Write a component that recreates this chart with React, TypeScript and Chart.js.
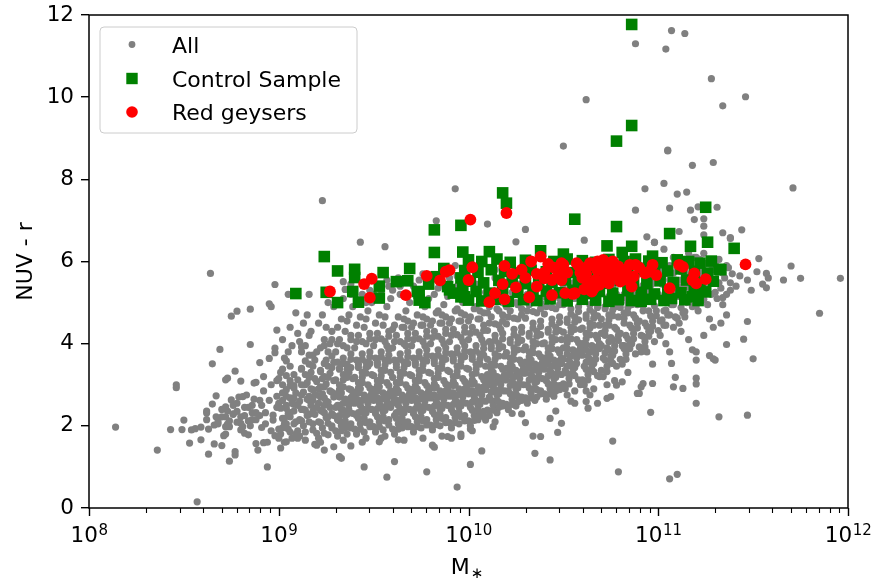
import React, { useEffect, useRef } from "react";
import { Chart, registerables } from "chart.js";
Chart.register(...registerables);

const FONT = "'DejaVu Sans', 'Liberation Sans', sans-serif";

const xTickExponents = [8, 9, 10, 11, 12];
const yTickValues = [0, 2, 4, 6, 8, 10, 12];
const legendLabels = ["All", "Control Sample", "Red geysers"];
const xAxisLabel = "M";
const xAxisSubscript = "\u2217";
const yAxisLabel = "NUV - r";

// Each list holds pairs: log10(M*) x 100, NUV - r x 100
const allOutliers = [
  814,197, 836,141, 846,300, 846,293, 857,15, 843,191, 849,191, 850,214, 853,158, 854,190, 856,193, 859,166, 859,197,
  862,231, 862,236, 864,571, 865,351, 867,273, 865,253, 863,131, 863,192, 866,202, 867,222, 868,210, 866,156, 869,386,
  872,312, 873,316, 870,152, 872,246, 873,236, 872,222, 872,198, 873,204, 871,176, 874,114, 877,129, 877,137, 875,467,
  878,479, 875,263, 877,333, 880,309, 876,229, 878,209, 880,206, 881,198, 885,484, 885,398, 881,271, 883,275, 887,304,
  888,306, 882,182, 884,178, 888,157, 892,159, 889,141, 894,100, 890,354, 895,364, 898,389, 898,378, 895,497, 896,490,
  898,544, 899,433, 901,146, 904,161, 923,748, 916,520, 905,520, 934,551, 920,153, 924,141, 929,149, 938,151, 932,125,
  933,121, 945,100, 943,647, 956,636, 953,161, 961,113, 963,166, 957,75, 978,88, 981,153, 982,148, 983,699, 989,174,
  991,170, 996,174, 994,51, 993,777, 1001,106, 1007,139, 1002,188, 1001,192, 1013,198, 1014,210, 1009,214, 1010,691,
  1023,230, 1028,229, 1025,648, 1030,678, 1030,208, 1038,174, 1035,133, 1034,175, 1043,117, 1043,218, 1049,206, 1047,184,
  1046,236, 1050,881, 1056,255, 1062,259, 1063,243, 1062,994, 1061,652, 1068,255, 1073,267, 1075,271, 1076,163, 1078,299,
  1079,88, 1081,307, 1090,279, 1089,279, 1088,1130, 1088,725, 1096,233, 1097,303, 1091,295, 1092,303, 1093,777, 1094,660,
  1098,646, 1098,647, 1103,790, 1106,730, 1103,630, 1106,71, 1110,82, 1107,1162, 1104,1117, 1105,871, 1105,869, 1107,352,
  1109,318, 1108,295, 1110,764, 1111,673, 1113,291, 1114,1155, 1115,769, 1117,725, 1119,702, 1118,834, 1120,255, 1120,316,
  1120,302, 1120,360, 1120,380, 1121,733, 1124,704, 1124,686, 1124,665, 1127,371, 1129,363, 1130,360, 1128,1045, 1129,841,
  1131,732, 1132,222, 1134,979, 1134,670, 1136,398, 1138,656, 1138,658, 1144,677, 1145,411, 1147,454, 1147,226, 1150,363,
  1146,1001, 1153,607, 1157,571, 1157,536, 1166,555, 1170,589, 1171,779, 1175,559, 1185,474, 1196,559,
];

const allLowMass = [
  870,240, 874,212, 878,255, 882,225, 885,200, 887,265, 880,190, 876,228, 868,205, 884,245, 888,215, 886,232, 862,215,
  879,270, 872,180, 891,196, 893,232, 895,262, 897,214, 899,245, 892,285, 896,300, 898,176, 894,160, 899,272, 891,250,
  897,226, 893,205, 896,188, 899,310, 892,320,
  880,222, 882,245, 884,212, 886,250, 888,232, 890,225, 890,262, 886,215, 878,235, 876,250, 874,198, 870,222,
];

const allCloud90 = [
  901,180, 903,205, 905,230, 907,255, 909,280, 902,300, 904,322, 906,345, 908,268, 901,243, 903,218, 905,192, 907,170,
  909,210, 902,262, 904,288, 906,310, 908,236, 901,330, 903,365, 905,380, 907,395, 909,180, 904,250, 906,222, 908,298,
  902,410, 906,440, 909,475, 903,160,
  911,175, 913,200, 915,225, 917,250, 919,275, 912,300, 914,325, 916,350, 918,190, 911,215, 913,240, 915,265, 917,290,
  919,315, 912,340, 914,165, 916,210, 918,235, 911,260, 913,282, 915,305, 917,330, 919,360, 912,380, 914,395, 916,420,
  918,372, 911,405, 913,450, 915,470, 917,430, 919,155, 912,240, 916,272, 919,228,
  921,170, 923,195, 925,220, 927,245, 929,270, 922,295, 924,320, 926,345, 928,370, 921,210, 923,235, 925,260, 927,285,
  929,310, 922,335, 924,182, 926,206, 928,230, 921,255, 923,278, 925,302, 927,328, 929,355, 922,390, 924,410, 926,380,
  928,430, 921,450, 923,470, 925,440, 927,400, 929,490, 922,160, 926,500, 924,250, 928,200, 921,290, 925,360, 929,225,
  923,315,
  931,175, 933,200, 935,225, 937,250, 939,275, 932,300, 934,325, 936,350, 938,375, 931,400, 933,188, 935,212, 937,238,
  939,262, 932,288, 934,312, 936,338, 938,362, 931,215, 933,240, 935,265, 937,290, 939,315, 932,340, 934,365, 936,390,
  938,420, 931,440, 933,460, 935,430, 937,470, 939,490, 932,410, 934,510, 936,180, 938,205, 931,250, 935,195, 939,230,
  933,280, 937,330, 931,355, 936,455, 934,165, 938,520,
  941,180, 943,205, 945,230, 947,255, 949,280, 942,305, 944,330, 946,355, 948,380, 941,405, 943,192, 945,218, 947,242,
  949,268, 942,292, 944,318, 946,342, 948,368, 941,225, 943,250, 945,275, 947,300, 949,325, 942,350, 944,375, 946,400,
  948,425, 941,445, 943,465, 945,440, 947,480, 949,500, 942,420, 944,520, 946,170, 948,210, 941,265, 945,185, 949,240,
  943,290, 947,345, 941,360, 946,460, 944,160, 948,530,
];

const allFill90 = [
  900,192, 902,218, 904,242, 906,268, 908,292, 900,315, 902,338, 904,358, 906,232, 908,205, 900,255, 902,280, 904,205,
  906,298, 908,325, 900,170, 904,272, 908,252, 902,195, 906,185,
  910,188, 912,212, 914,238, 916,262, 918,288, 910,312, 912,338, 914,358, 916,228, 918,205, 910,250, 912,275, 914,300,
  916,318, 918,345, 910,170, 914,185, 918,262, 912,392, 916,372, 910,425,
  920,182, 922,208, 924,232, 926,258, 928,282, 920,308, 922,332, 924,352, 926,222, 928,195, 920,245, 922,270, 924,295,
  926,318, 928,342, 920,380, 924,395, 928,410, 922,238, 926,178, 920,275, 924,268,
  930,188, 932,212, 934,238, 936,262, 938,288, 930,312, 932,338, 934,352, 936,228, 938,195, 930,245, 932,270, 934,295,
  936,318, 938,342, 930,380, 934,395, 938,410, 932,225, 936,200, 930,278, 934,255, 938,268, 932,250,
  940,192, 942,218, 944,242, 946,268, 948,292, 940,318, 942,342, 944,362, 946,232, 948,198, 940,255, 942,280, 944,305,
  946,328, 948,352, 940,390, 944,405, 948,412, 942,232, 946,208, 940,282, 944,262, 948,272, 942,262,
  930,505, 935,532, 944,548, 950,520, 938,545, 946,500,
];

const allCloud95 = [
  951,185, 953,210, 955,235, 957,260, 959,285, 952,310, 954,335, 956,360, 958,385, 951,410, 953,198, 955,222, 957,248,
  959,272, 952,298, 954,322, 956,348, 958,372, 951,230, 953,255, 955,280, 957,305, 959,330, 952,355, 954,380, 956,405,
  958,430, 951,450, 953,470, 955,445, 957,490, 959,510, 952,425, 954,530, 956,175, 958,215, 951,270, 955,190, 959,245,
  953,295, 957,395, 951,365, 956,465, 954,170, 958,540,
  961,180, 963,205, 965,230, 967,255, 969,280, 962,305, 964,330, 966,355, 968,380, 961,405, 963,192, 965,218, 967,242,
  969,268, 962,292, 964,318, 966,342, 968,368, 961,225, 963,250, 965,275, 967,300, 969,325, 962,350, 964,375, 966,400,
  968,425, 961,445, 963,465, 965,440, 967,480, 969,500, 962,420, 964,520, 966,165, 968,210, 961,265, 965,195, 969,240,
  963,285, 967,395, 961,360, 966,460, 964,540, 968,455,
  971,185, 973,210, 975,235, 977,260, 979,285, 972,310, 974,335, 976,360, 978,385, 971,410, 973,198, 975,222, 977,248,
  979,272, 972,298, 974,322, 976,348, 978,372, 971,230, 973,255, 975,280, 977,305, 979,330, 972,355, 974,380, 976,405,
  978,430, 971,450, 973,470, 975,445, 977,490, 979,510, 972,425, 974,530, 976,170, 978,215, 971,270, 975,195, 979,245,
  973,290, 977,395, 971,365, 976,465, 974,555, 978,460,
  981,190, 983,215, 985,240, 987,265, 989,290, 982,315, 984,340, 986,365, 988,390, 981,415, 983,203, 985,228, 987,252,
  989,278, 982,302, 984,328, 986,352, 988,378, 981,235, 983,260, 985,285, 987,310, 989,335, 982,360, 984,385, 986,410,
  988,435, 981,455, 983,475, 985,450, 987,495, 989,515, 982,430, 984,535, 986,175, 988,220, 981,275, 985,200, 989,250,
  983,295, 987,400, 981,370, 986,470, 984,560, 988,465,
  991,195, 993,220, 995,245, 997,270, 999,295, 992,320, 994,345, 996,370, 998,395, 991,420, 993,208, 995,232, 997,258,
  999,282, 992,308, 994,332, 996,358, 998,382, 991,240, 993,265, 995,290, 997,315, 999,340, 992,365, 994,390, 996,415,
  998,440, 991,460, 993,480, 995,455, 997,500, 999,520, 992,435, 994,540, 996,180, 998,225, 991,280, 995,205, 999,255,
  993,300, 997,405, 991,375, 996,475, 994,565, 998,470,
];

const allFill95 = [
  950,198, 952,222, 954,248, 956,272, 958,298, 950,322, 952,348, 954,368, 956,238, 958,202, 950,262, 952,285, 954,310,
  956,335, 958,358, 950,395, 954,412, 958,418, 952,242, 956,212, 950,288, 954,265, 958,278, 952,268,
  960,192, 962,218, 964,242, 966,268, 968,292, 960,318, 962,342, 964,362, 966,232, 968,198, 960,255, 962,280, 964,305,
  966,328, 968,352, 960,390, 964,405, 968,412, 962,232, 966,208, 960,282, 964,262, 968,272, 962,262, 960,435, 966,440,
  970,198, 972,222, 974,248, 976,272, 978,298, 970,322, 972,348, 974,368, 976,238, 978,202, 970,262, 972,285, 974,310,
  976,335, 978,358, 970,395, 974,412, 978,418, 972,242, 976,212, 970,288, 974,265, 978,278, 972,268, 970,440, 976,445,
  980,202, 982,228, 984,252, 986,278, 988,302, 980,328, 982,352, 984,372, 986,242, 988,208, 980,268, 982,292, 984,318,
  986,340, 988,362, 980,400, 984,418, 988,425, 982,248, 986,218, 980,292, 984,270, 988,285, 982,275, 980,445, 986,450,
  984,480,
  990,208, 992,232, 994,258, 996,282, 998,308, 990,332, 992,358, 994,378, 996,248, 998,212, 990,272, 992,298, 994,322,
  996,345, 998,368, 990,405, 994,422, 998,428, 992,252, 996,222, 990,298, 994,275, 998,290, 992,280, 990,450, 996,455,
  994,485,
  957,555, 960,530, 963,560, 971,540, 976,570, 982,520, 986,545, 990,560, 993,590,
];

const allCloud100 = [
  1001,200, 1003,225, 1005,250, 1007,275, 1009,300, 1002,325, 1004,350, 1006,375, 1008,400, 1001,425, 1003,213, 1005,238,
  1007,262, 1009,288, 1002,312, 1004,338, 1006,362, 1008,388, 1001,245, 1003,270, 1005,295, 1007,320, 1009,345, 1002,370,
  1004,395, 1006,420, 1008,445, 1001,465, 1003,485, 1005,460, 1007,505, 1009,525, 1002,440, 1004,545, 1006,225, 1008,235,
  1001,285, 1005,215, 1009,260, 1003,305, 1007,410, 1001,380, 1006,480, 1004,570, 1008,475,
  1011,225, 1013,250, 1015,275, 1017,300, 1019,325, 1012,350, 1014,375, 1016,400, 1018,425, 1011,450, 1013,238, 1015,262,
  1017,288, 1019,312, 1012,338, 1014,362, 1016,388, 1018,412, 1011,270, 1013,295, 1015,320, 1017,345, 1019,370, 1012,395,
  1014,420, 1016,445, 1018,470, 1011,490, 1013,510, 1015,485, 1017,530, 1019,550, 1012,465, 1014,560, 1016,245, 1018,255,
  1011,310, 1015,232, 1019,285, 1013,330, 1017,435, 1011,405, 1016,505, 1014,580, 1018,500,
  1021,240, 1023,265, 1025,290, 1027,315, 1029,340, 1022,365, 1024,390, 1026,415, 1028,440, 1021,465, 1023,252, 1025,278,
  1027,302, 1029,328, 1022,352, 1024,378, 1026,402, 1028,428, 1021,285, 1023,310, 1025,335, 1027,360, 1029,385, 1022,410,
  1024,435, 1026,460, 1028,485, 1021,505, 1023,525, 1025,500, 1027,545, 1029,560, 1022,480, 1024,570, 1026,258, 1028,270,
  1021,325, 1025,248, 1029,300, 1023,345,
  1031,255, 1033,280, 1035,305, 1037,330, 1039,355, 1032,380, 1034,405, 1036,430, 1038,455, 1031,480, 1033,268, 1035,292,
  1037,318, 1039,342, 1032,368, 1034,392, 1036,418, 1038,442, 1031,300, 1033,325, 1035,350, 1037,375, 1039,400, 1032,425,
  1034,450, 1036,475, 1038,500, 1031,520, 1033,540, 1035,515, 1037,555, 1039,570, 1032,495, 1034,580, 1036,270, 1038,285,
  1031,340, 1035,262, 1039,315, 1033,360,
  1041,265, 1043,290, 1045,315, 1047,340, 1049,365, 1042,390, 1044,415, 1046,440, 1048,465, 1041,490, 1043,278, 1045,302,
  1047,328, 1049,352, 1042,378, 1044,402, 1046,428, 1048,452, 1041,310, 1043,335, 1045,360, 1047,385, 1049,410, 1042,435,
  1044,460, 1046,485, 1048,510, 1041,530, 1043,550, 1045,525, 1047,565, 1049,575, 1042,505, 1044,585, 1046,285, 1048,298,
  1041,350, 1045,272, 1049,325, 1043,370,
];

const allFill100 = [
  1000,212, 1002,238, 1004,262, 1006,288, 1008,312, 1000,338, 1002,362, 1004,382, 1006,252, 1008,222, 1000,278, 1002,302,
  1004,328, 1006,350, 1008,372, 1000,410, 1004,428, 1008,432, 1002,258, 1006,232, 1000,302, 1004,280, 1008,295, 1002,285,
  1000,455, 1006,460, 1004,490,
  1010,238, 1012,262, 1014,288, 1016,312, 1018,338, 1010,362, 1012,388, 1014,408, 1016,278, 1018,248, 1010,298, 1012,322,
  1014,348, 1016,370, 1018,392, 1010,432, 1014,448, 1018,455, 1012,282, 1016,258, 1010,325, 1014,305, 1018,318, 1012,310,
  1010,475, 1016,480, 1014,510,
  1020,252, 1022,278, 1024,302, 1026,328, 1028,352, 1020,378, 1022,402, 1024,422, 1026,292, 1028,262, 1020,312, 1022,338,
  1024,362, 1026,385, 1028,408, 1020,448, 1024,462, 1028,470, 1022,298, 1026,272, 1020,340, 1024,320, 1028,332, 1022,325,
  1020,490, 1026,495, 1024,525,
  1030,268, 1032,292, 1034,318, 1036,342, 1038,368, 1030,392, 1032,418, 1034,438, 1036,308, 1038,278, 1030,328, 1032,352,
  1034,378, 1036,400, 1038,422, 1030,462, 1034,478, 1038,485, 1032,312, 1036,288, 1030,355, 1034,335, 1038,348, 1032,340,
  1030,505, 1036,510, 1034,540,
  1040,278, 1042,302, 1044,328, 1046,352, 1048,378, 1040,402, 1042,428, 1044,448, 1046,318, 1048,288, 1040,338, 1042,362,
  1044,388, 1046,410, 1048,432, 1040,472, 1044,488, 1048,495, 1042,322, 1046,298, 1040,365, 1044,345, 1048,358, 1042,350,
  1040,515, 1046,520, 1044,550,
];

const allCloud105 = [
  1051,290, 1053,315, 1055,340, 1057,365, 1059,390, 1052,415, 1054,440, 1056,465, 1058,490, 1051,515, 1053,302, 1055,328,
  1057,352, 1059,378, 1052,402, 1054,428, 1056,452, 1058,478, 1051,335, 1053,360, 1055,385, 1057,410, 1059,435, 1052,460,
  1054,485, 1056,510, 1058,535, 1051,555, 1053,570, 1055,548, 1057,580, 1052,275, 1056,285, 1059,300, 1054,260,
  1061,300, 1063,325, 1065,350, 1067,375, 1069,400, 1062,425, 1064,450, 1066,475, 1068,500, 1061,525, 1063,312, 1065,338,
  1067,362, 1069,388, 1062,412, 1064,438, 1066,462, 1068,488, 1061,345, 1063,370, 1065,395, 1067,420, 1069,445, 1062,470,
  1064,495, 1066,520, 1068,545, 1061,560, 1063,575, 1065,555, 1067,585, 1062,285, 1066,290, 1069,320, 1064,275,
  1071,320, 1073,345, 1075,370, 1077,395, 1079,420, 1072,445, 1074,470, 1076,495, 1078,520, 1071,545, 1073,332, 1075,358,
  1077,382, 1079,408, 1072,432, 1074,458, 1076,482, 1078,508, 1071,365, 1073,390, 1075,415, 1077,440, 1079,465, 1072,490,
  1074,515, 1076,540, 1078,560, 1071,580, 1073,300, 1077,310,
  1081,350, 1083,375, 1085,400, 1087,425, 1089,450, 1082,475, 1084,500, 1086,525, 1088,550, 1081,570, 1083,362, 1085,388,
  1087,412, 1089,438, 1082,462, 1084,488, 1086,512, 1088,538, 1081,395, 1083,420, 1085,445, 1087,470, 1089,495, 1082,520,
  1084,330,
  1091,380, 1093,405, 1095,430, 1097,455, 1099,480, 1092,505, 1094,530, 1096,555, 1098,575, 1091,590, 1093,392, 1095,418,
  1097,442, 1099,468, 1092,492, 1094,518, 1096,542, 1098,565, 1091,420, 1093,450, 1095,480, 1097,350,
];

const allFill105 = [
  1050,302, 1052,328, 1054,352, 1056,378, 1058,402, 1050,428, 1052,452, 1054,472, 1056,342, 1058,312, 1050,362, 1052,388,
  1054,412, 1056,435, 1058,458, 1050,495, 1054,510, 1058,518, 1052,345, 1056,322, 1050,390, 1054,370, 1058,382, 1052,375,
  1050,535, 1056,540,
  1060,312, 1062,338, 1064,362, 1066,388, 1068,412, 1060,438, 1062,462, 1064,482, 1066,352, 1068,322, 1060,372, 1062,398,
  1064,422, 1066,445, 1068,468, 1060,505, 1064,520, 1068,528, 1062,355, 1066,332, 1060,400, 1064,380, 1068,392, 1062,385,
  1060,545,
  1070,335, 1072,360, 1074,385, 1076,410, 1078,435, 1070,460, 1072,485, 1074,505, 1076,372, 1078,345, 1070,395, 1072,420,
  1074,445, 1076,468, 1078,490, 1070,525, 1074,540, 1078,548, 1072,378, 1076,352, 1070,425, 1074,405,
  1080,362, 1082,388, 1084,412, 1086,438, 1088,462, 1080,488, 1082,512, 1084,532, 1086,400, 1088,375, 1080,425, 1082,450,
  1084,475, 1086,495, 1088,518, 1080,548, 1084,560, 1082,395,
  1090,392, 1092,418, 1094,442, 1096,468, 1098,492, 1090,518, 1092,542, 1094,562, 1096,430, 1098,405, 1090,455, 1092,480,
  1094,505, 1096,525, 1098,548, 1090,570, 1094,380,
];

const allCloud110 = [
  1101,420, 1103,445, 1105,470, 1107,495, 1109,520, 1102,545, 1104,570, 1106,590, 1108,610, 1101,455, 1103,480, 1105,505,
  1107,530, 1109,555, 1102,580, 1104,400, 1106,380, 1108,440, 1101,600, 1109,465,
  1111,450, 1113,475, 1115,500, 1117,525, 1119,550, 1112,575, 1114,600, 1116,620, 1118,490, 1111,515, 1113,540, 1115,565,
  1117,590, 1119,610, 1112,430, 1114,465, 1116,410, 1118,385,
  1121,480, 1123,505, 1125,530, 1127,555, 1129,580, 1122,605, 1124,620, 1126,495, 1128,520, 1121,545, 1123,570, 1125,595,
  1127,460, 1129,440, 1124,420,
  1131,510, 1133,535, 1135,560, 1137,585, 1132,605, 1134,495, 1136,520, 1138,548, 1131,575, 1139,570, 1133,450, 1136,470,
  1141,540, 1143,565, 1145,590, 1147,555, 1149,530, 1152,575, 1155,545, 1158,560,
  1100,432, 1102,458, 1104,482, 1106,508, 1108,532, 1100,558, 1102,580, 1104,445, 1106,470, 1108,495, 1100,520, 1102,505,
  1104,530, 1106,555, 1108,572,
  1110,462, 1112,488, 1114,512, 1116,538, 1118,562, 1110,585, 1112,598, 1114,478, 1116,502, 1118,528, 1110,540, 1112,555,
  1114,575,
  1120,492, 1122,518, 1124,542, 1126,568, 1128,592, 1120,565, 1122,585, 1124,508, 1126,532, 1128,555, 1120,610,
  1130,525, 1132,548, 1134,572, 1136,590, 1138,530, 1130,595, 1134,512,
];

const controlSample = [
  1086,1177, 1086,931, 1078,893, 1018,767, 1020,742, 996,688, 982,677, 1056,703, 1078,685, 1125,732, 1106,668, 1126,647,
  1140,632, 1117,637, 997,623, 982,622, 1011,624, 1073,638, 1038,626, 1050,618, 1081,622, 1086,637, 1097,613,
  924,612, 931,577, 940,581, 940,561, 955,573, 969,583,
  909,522, 925,525, 931,500, 939,527, 942,501, 953,540, 953,511, 962,551, 968,553, 974,523, 977,500, 979,545, 987,583,
  983,563, 990,531, 996,514, 997,540, 973,527, 974,506, 989,539, 992,523, 996,560, 998,514,
  1000,604, 1007,600, 1015,606, 1022,598, 1030,603, 1045,600, 1052,606, 1060,602, 1067,598, 1074,605, 1082,600, 1088,606,
  1095,601, 1102,597, 1110,604, 1116,600, 1122,596, 1128,601,
  998,578, 1005,574, 1012,580, 1019,576, 1026,572, 1033,579, 1041,575, 1048,580, 1055,573, 1063,578, 1070,574, 1077,579,
  1084,575, 1091,580, 1098,573, 1105,577, 1112,582, 1119,576, 1126,572, 1133,580,
  1001,552, 1008,548, 1016,554, 1023,550, 1030,546, 1037,553, 1044,549, 1051,555, 1058,548, 1065,552, 1072,547, 1080,554,
  1087,550, 1094,546, 1101,553, 1108,549, 1115,555, 1122,548, 1129,552,
  1004,527, 1011,523, 1018,529, 1026,525, 1034,521, 1041,528, 1048,524, 1055,530, 1062,522, 1069,527, 1076,523, 1084,529,
  1091,525, 1098,521, 1105,528, 1112,524, 1119,530, 1125,526,
  1000,506, 1007,504, 1014,508, 1021,503, 1029,507, 1036,505, 1043,509, 1052,504, 1060,508, 1067,506, 1074,503, 1079,507,
  1086,505, 1091,503, 1096,508, 1103,505, 1107,510, 1114,507, 1118,514, 1121,505, 1132,581,
];

const redGeysers = [
  927,527, 945,545, 949,558, 948,512, 967,518, 978,565, 985,554, 988,575, 990,579, 1000,555, 1001,702, 1020,718, 1146,593,
  1002,586, 1019,589, 1018,545, 1014,523, 1011,501, 1019,508, 1025,537, 1032,513, 1036,539, 1038,612, 1042,594, 1040,559,
  1040,573, 1044,518, 1050,592, 1050,571, 1052,573, 1049,555, 1051,523, 1056,523, 1061,532, 1059,573, 1066,535, 1067,555,
  1068,600, 1071,604, 1068,579, 1072,563, 1074,547, 1077,592, 1078,571, 1080,551, 1085,592, 1088,592, 1087,563, 1086,539,
  1093,571, 1097,592, 1099,567, 1106,535, 1111,592, 1113,587, 1119,571, 1118,555, 1120,547, 1125,557, 1065,527, 1055,521,
  1062,570, 1070,580, 1075,563, 1049,596, 1045,585, 1033,600, 1058,590, 1064,596,
  1057,596, 1062,585, 1066,590, 1070,595, 1073,585, 1076,600, 1079,588, 1083,580, 1090,585, 1095,575, 1060,560, 1063,548,
  1069,543, 1081,565, 1084,555, 1047,565, 1044,555, 1036,570, 1030,560, 1028,580, 1023,570,
];

function toPoints(lists: number[][]) {
  const out: { x: number; y: number }[] = [];
  for (const l of lists) {
    for (let i = 0; i + 1 < l.length; i += 2) {
      out.push({ x: Math.pow(10, l[i] / 100), y: l[i + 1] / 100 });
    }
  }
  return out;
}

const GREY = "#808080";
const GREEN = "#008000";
const RED = "#ff0000";

const decorPlugin = {
  id: "decor",
  afterDraw(chart: any) {
    const ctx: CanvasRenderingContext2D = chart.ctx;
    const { left, right, top, bottom } = chart.chartArea;
    const xs = chart.scales.x;
    ctx.save();
    ctx.strokeStyle = "#000";
    ctx.fillStyle = "#000";
    ctx.lineWidth = 1.5;
    ctx.strokeRect(left, top, right - left, bottom - top);
    ctx.beginPath();
    for (const e of xTickExponents) {
      const px = Math.round(xs.getPixelForValue(Math.pow(10, e))) + 0.5;
      ctx.moveTo(px, bottom);
      ctx.lineTo(px, bottom + 8);
    }
    ctx.lineWidth = 1.4;
    ctx.stroke();
    ctx.beginPath();
    for (let e = xTickExponents[0]; e < xTickExponents[xTickExponents.length - 1]; e++) {
      for (let k = 2; k <= 9; k++) {
        const px = Math.round(xs.getPixelForValue(k * Math.pow(10, e))) + 0.5;
        ctx.moveTo(px, bottom);
        ctx.lineTo(px, bottom + 5);
      }
    }
    ctx.lineWidth = 1.1;
    ctx.stroke();
    ctx.textBaseline = "alphabetic";
    ctx.textAlign = "left";
    for (const e of xTickExponents) {
      const px = xs.getPixelForValue(Math.pow(10, e));
      ctx.font = `21.5px ${FONT}`;
      const w1 = ctx.measureText("10").width;
      ctx.font = `15px ${FONT}`;
      const w2 = ctx.measureText(String(e)).width;
      const start = px - (w1 + w2) / 2;
      ctx.font = `21.5px ${FONT}`;
      ctx.fillText("10", start, bottom + 34);
      ctx.font = `15px ${FONT}`;
      ctx.fillText(String(e), start + w1 + 0.5, bottom + 27);
    }
    ctx.font = `22px ${FONT}`;
    const mw = ctx.measureText(xAxisLabel).width;
    ctx.font = `15px ${FONT}`;
    const sw = ctx.measureText(xAxisSubscript).width;
    const cx = (left + right) / 2 - 2;
    const sx = cx - (mw + sw) / 2;
    ctx.font = `22px ${FONT}`;
    ctx.fillText(xAxisLabel, sx, bottom + 66);
    ctx.font = `15px ${FONT}`;
    ctx.fillText(xAxisSubscript, sx + mw + 1, bottom + 70);
    ctx.save();
    ctx.translate(31.5, (top + bottom) / 2);
    ctx.rotate(-Math.PI / 2);
    ctx.textAlign = "center";
    ctx.font = `22px ${FONT}`;
    ctx.fillText(yAxisLabel, 0, 0);
    ctx.restore();
    // legend
    const lx = left + 11, ly = top + 12, lw = 257, lh = 106, r = 4;
    ctx.beginPath();
    ctx.moveTo(lx + r, ly);
    ctx.lineTo(lx + lw - r, ly);
    ctx.arcTo(lx + lw, ly, lx + lw, ly + r, r);
    ctx.lineTo(lx + lw, ly + lh - r);
    ctx.arcTo(lx + lw, ly + lh, lx + lw - r, ly + lh, r);
    ctx.lineTo(lx + r, ly + lh);
    ctx.arcTo(lx, ly + lh, lx, ly + lh - r, r);
    ctx.lineTo(lx, ly + r);
    ctx.arcTo(lx, ly, lx + r, ly, r);
    ctx.closePath();
    ctx.fillStyle = "rgba(255,255,255,0.8)";
    ctx.fill();
    ctx.strokeStyle = "#cccccc";
    ctx.lineWidth = 1;
    ctx.stroke();
    const mx = lx + 32;
    const rows = [ly + 17.5, ly + 51.5, ly + 85];
    ctx.fillStyle = GREY;
    ctx.beginPath();
    ctx.arc(mx, rows[0], 3.4, 0, Math.PI * 2);
    ctx.fill();
    ctx.fillStyle = GREEN;
    ctx.fillRect(mx - 5.7, rows[1] - 5.7, 11.4, 11.4);
    ctx.fillStyle = RED;
    ctx.beginPath();
    ctx.arc(mx, rows[2], 5.8, 0, Math.PI * 2);
    ctx.fill();
    ctx.fillStyle = "#000";
    ctx.font = `22px ${FONT}`;
    ctx.textAlign = "left";
    legendLabels.forEach((t, i) => ctx.fillText(t, lx + 72, rows[i] + 8));
    ctx.restore();
  },
};

export default function App() {
  const ref = useRef<HTMLCanvasElement>(null);
  useEffect(() => {
    document.body.style.margin = "0";
    const canvas = ref.current;
    if (!canvas) return;
    const chart = new Chart(canvas, {
      type: "scatter",
      data: {
        datasets: [
          {
            label: legendLabels[0],
            data: toPoints([allOutliers, allLowMass, allCloud90, allFill90, allCloud95, allFill95, allCloud100, allFill100, allCloud105, allFill105, allCloud110]),
            backgroundColor: GREY,
            borderWidth: 0,
            pointRadius: 3.6,
            order: 3,
          },
          {
            label: legendLabels[1],
            data: toPoints([controlSample]),
            backgroundColor: GREEN,
            borderWidth: 0,
            pointStyle: "rect",
            pointRadius: 8.2,
            order: 2,
          },
          {
            label: legendLabels[2],
            data: toPoints([redGeysers]),
            backgroundColor: RED,
            borderWidth: 0,
            pointRadius: 5.9,
            order: 1,
          },
        ],
      },
      options: {
        animation: false,
        responsive: false,
        events: [],
        layout: { padding: { left: 0, right: 27, top: 15, bottom: 0 } },
        plugins: { legend: { display: false }, tooltip: { enabled: false } },
        scales: {
          x: {
            type: "logarithmic",
            min: 1e8,
            max: 1e12,
            afterBuildTicks: (scale: any) => {
              scale.ticks = xTickExponents.map((e) => ({ value: Math.pow(10, e) }));
            },
            afterFit: (scale: any) => {
              scale.height = 73;
              scale.paddingLeft = 0;
              scale.paddingRight = 0;
              scale.paddingTop = 0;
              scale.paddingBottom = 0;
            },
            ticks: { display: false },
            grid: { display: false },
            border: { display: false },
          },
          y: {
            type: "linear",
            min: 0,
            max: 12,
            afterBuildTicks: (scale: any) => {
              scale.ticks = yTickValues.map((v) => ({ value: v }));
            },
            afterFit: (scale: any) => {
              scale.width = 89;
              scale.paddingLeft = 0;
              scale.paddingRight = 0;
              scale.paddingTop = 0;
              scale.paddingBottom = 0;
            },
            ticks: {
              font: { family: FONT, size: 21.5 },
              color: "#000",
              padding: 7,
            },
            grid: {
              display: true,
              drawOnChartArea: false,
              drawTicks: true,
              tickLength: 8,
              color: "#000",
              lineWidth: 1.4,
            },
            border: { display: false },
          },
        },
      },
      plugins: [decorPlugin],
    } as any);
    return () => chart.destroy();
  }, []);
  return (
    <div style={{ width: 875, height: 581 }}>
      <canvas ref={ref} width={875} height={581} style={{ display: "block" }} />
    </div>
  );
}
